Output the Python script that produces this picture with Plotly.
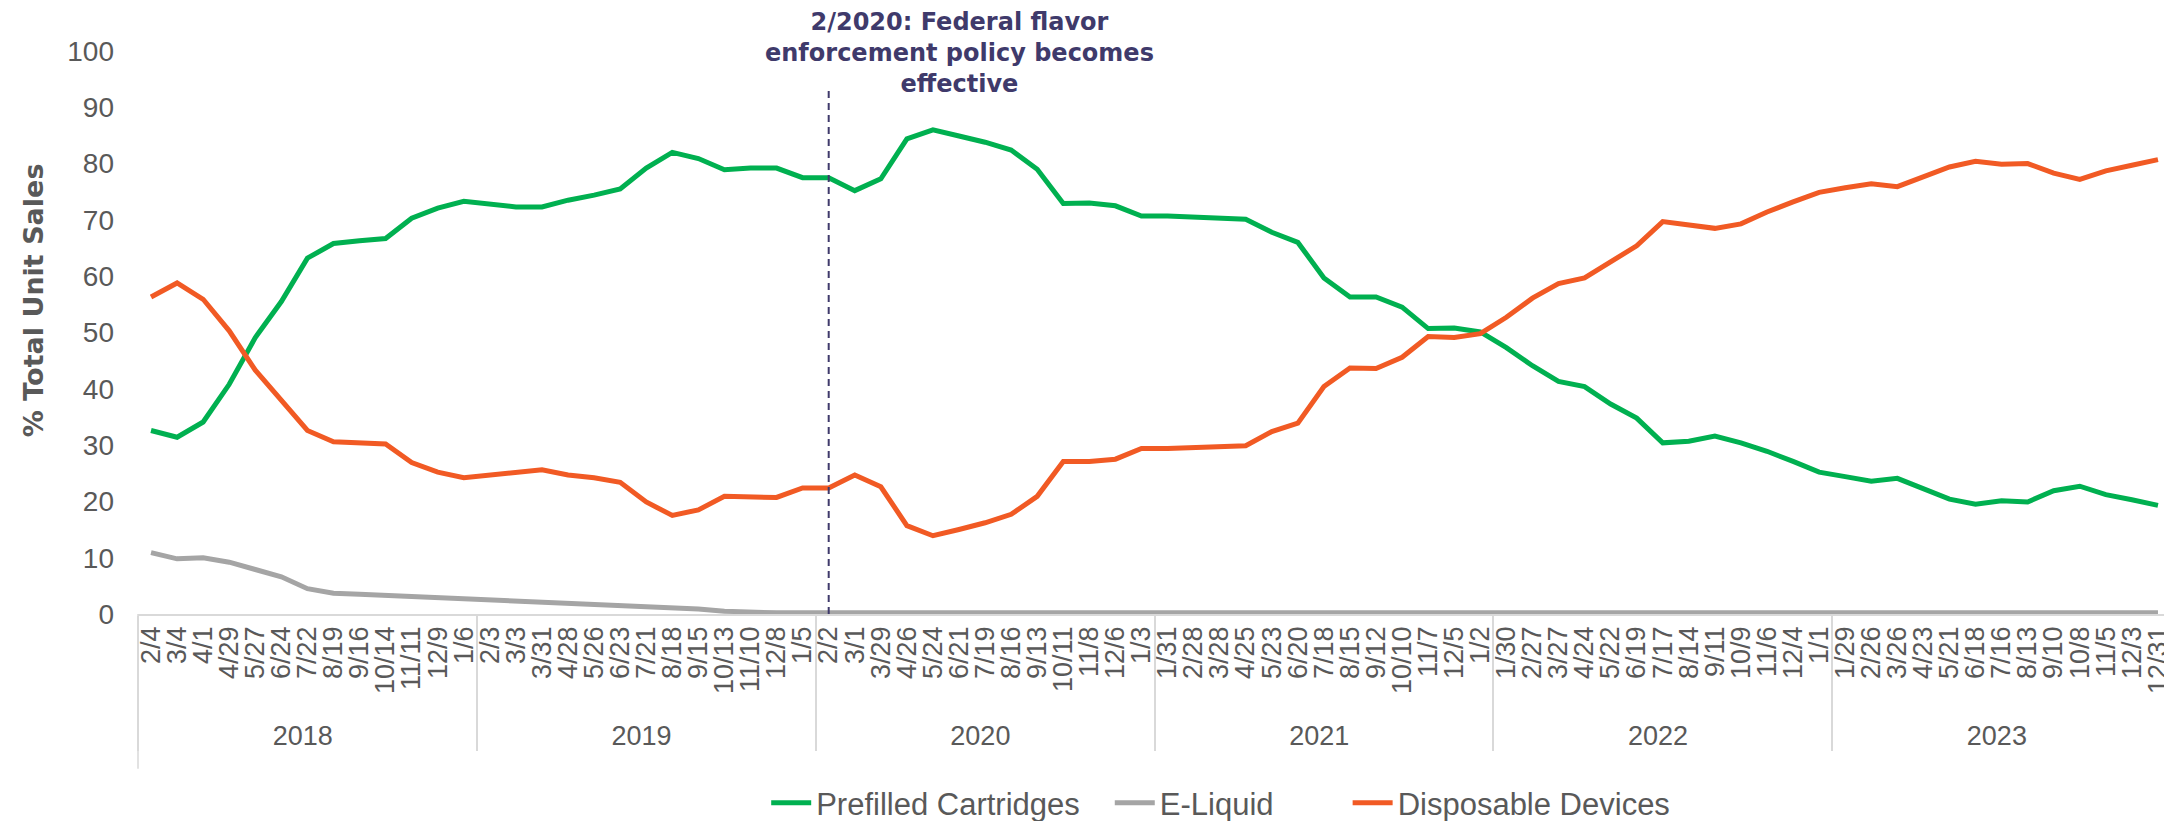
import plotly.graph_objects as go

# ---- data ----
years = ["2018", "2019", "2020", "2021", "2022", "2023"]
period_labels = [
    ["2/4", "3/4", "4/1", "4/29", "5/27", "6/24", "7/22", "8/19", "9/16", "10/14", "11/11", "12/9", "1/6"],
    ["2/3", "3/3", "3/31", "4/28", "5/26", "6/23", "7/21", "8/18", "9/15", "10/13", "11/10", "12/8", "1/5"],
    ["2/2", "3/1", "3/29", "4/26", "5/24", "6/21", "7/19", "8/16", "9/13", "10/11", "11/8", "12/6", "1/3"],
    ["1/31", "2/28", "3/28", "4/25", "5/23", "6/20", "7/18", "8/15", "9/12", "10/10", "11/7", "12/5", "1/2"],
    ["1/30", "2/27", "3/27", "4/24", "5/22", "6/19", "7/17", "8/14", "9/11", "10/9", "11/6", "12/4", "1/1"],
    ["1/29", "2/26", "3/26", "4/23", "5/21", "6/18", "7/16", "8/13", "9/10", "10/8", "11/5", "12/3", "12/31"],
]

prefilled = [
    32.6, 31.4, 34.1, 40.8, 49.1, 55.5, 63.2, 65.8, 66.3, 66.7, 70.3, 72.1, 73.3,
    72.9, 72.3, 72.3, 73.5, 74.4, 75.5, 79.2, 82.0, 80.9, 78.9, 79.2, 79.2, 77.5,
    77.5, 75.2, 77.3, 84.4, 86.0, 84.9, 83.8, 82.4, 79.0, 72.9, 73.0, 72.5, 70.7,
    70.7, 70.5, 70.5, 70.1, 67.8, 66.0, 59.7, 56.3, 56.3, 54.5, 50.7, 50.8, 50.1,
    47.3, 44.1, 41.3, 40.4, 37.3, 34.8, 30.4, 30.7, 31.6, 30.4, 28.9, 27.1, 25.2,
    24.4, 23.6, 24.1, 22.2, 20.4, 19.5, 20.1, 19.9, 21.9, 22.7, 21.2, 20.3, 19.3,
]
e_liquid = [
    10.9, 9.8, 10.0, 9.2, 7.9, 6.6, 4.5, 3.7, 3.5, 3.3, 3.1, 2.8, 2.6,
    2.5, 2.4, 2.1, 2.0, 1.7, 1.5, 1.2, 1.0, 0.9, 0.5, 0.3, 0.2, 0.2,
    0.2, 0.2, 0.2, 0.2, 0.3, 0.2, 0.2, 0.2, 0.2, 0.2, 0.2, 0.2, 0.2,
    0.2, 0.2, 0.2, 0.2, 0.2, 0.2, 0.2, 0.2, 0.2, 0.2, 0.2, 0.2, 0.2,
    0.2, 0.2, 0.2, 0.2, 0.2, 0.2, 0.2, 0.2, 0.2, 0.2, 0.2, 0.2, 0.2,
    0.2, 0.2, 0.2, 0.2, 0.2, 0.2, 0.2, 0.2, 0.2, 0.2, 0.2, 0.2, 0.2,
]
disposable = [
    56.3, 58.8, 55.9, 50.3, 43.3, 38.1, 32.6, 30.6, 30.3, 30.2, 26.9, 25.2, 24.2,
    24.6, 25.2, 25.6, 24.7, 24.2, 23.4, 19.9, 17.5, 18.5, 20.9, 20.7, 20.7, 22.4,
    22.4, 24.7, 22.6, 15.7, 13.9, 15.0, 16.2, 17.7, 20.9, 27.1, 27.1, 27.5, 29.4,
    29.4, 29.6, 29.6, 29.9, 32.4, 33.9, 40.4, 43.7, 43.6, 45.6, 49.3, 49.1, 49.8,
    52.7, 56.1, 58.7, 59.7, 62.6, 65.4, 69.7, 69.2, 68.5, 69.3, 71.4, 73.2, 74.9,
    75.7, 76.4, 75.9, 77.7, 79.4, 80.4, 79.9, 80.0, 78.3, 77.2, 78.7, 79.7, 80.7,
]

policy_year = "2020"
policy_period = "2/2"
policy_line_y = [0, 93.8]
annotation_text = "<b>2/2020: Federal flavor<br>enforcement policy becomes<br>effective</b>"

# ---- build multicategory x ----
x_years = []
x_periods = []
for yr, labs in zip(years, period_labels):
    for lab in labs:
        x_years.append(yr)
        x_periods.append(lab)
x_multi = [x_years, x_periods]
n_points = len(x_periods)

TEXT = "#595959"
GRID = "#D9D9D9"
SANS = "Liberation Sans, Arial, sans-serif"
TICKFONT = dict(family=SANS, size=27, color=TEXT)
LEGFONT = dict(family=SANS, size=31, color=TEXT)

fig = go.Figure()
fig.add_trace(go.Scatter(x=x_multi, y=prefilled, mode="lines", name="Prefilled Cartridges",
                         line=dict(color="#00B050", width=5), legend="legend"))
fig.add_trace(go.Scatter(x=x_multi, y=e_liquid, mode="lines", name="E-Liquid",
                         line=dict(color="#A5A5A5", width=5), legend="legend2"))
fig.add_trace(go.Scatter(x=x_multi, y=disposable, mode="lines", name="Disposable Devices",
                         line=dict(color="#F15A24", width=5), legend="legend3"))
fig.add_trace(go.Scatter(x=[[policy_year, policy_year], [policy_period, policy_period]],
                         y=policy_line_y, mode="lines", showlegend=False, hoverinfo="skip",
                         line=dict(color="#3F3A6B", width=2, dash="7px,5px")))

leg_common = dict(orientation="h", xanchor="left", y=-0.336, yanchor="middle",
                  font=LEGFONT, bgcolor="rgba(0,0,0,0)", itemwidth=40)

# page body has an 8px default margin; compensate so the plot area lands where the reference has it
fig.update_layout(
    width=2164, height=813,
    margin=dict(l=130, r=1, t=43, b=207, autoexpand=False),
    paper_bgcolor="white", plot_bgcolor="white",
    font=TICKFONT,
    legend=dict(x=0.309, **leg_common),
    legend2=dict(x=0.478, **leg_common),
    legend3=dict(x=0.595, **leg_common),
    xaxis=dict(type="multicategory", tickangle=-90, tickfont=TICKFONT,
               tickmode="linear", tick0=0, dtick=1,
               range=[-0.5, n_points - 0.5],
               showline=True, linecolor=GRID, linewidth=1.5,
               showdividers=True, dividercolor=GRID, dividerwidth=1.5,
               showgrid=False, zeroline=False, ticks=""),
    yaxis=dict(range=[0, 100], dtick=10, tickfont=dict(family=SANS, size=28, color=TEXT),
               showgrid=False, zeroline=False, showline=False, ticks="", ticklabelstandoff=23),
    shapes=[
        dict(type="line", xref="paper", yref="paper", x0=0, x1=0, y0=0, y1=-0.275,
             line=dict(color=GRID, width=1.5)),
        dict(type="line", xref="paper", yref="paper", x0=0.9995, x1=0.9995, y0=0, y1=-0.275,
             line=dict(color=GRID, width=1.5)),
    ],
    annotations=[
        dict(text=annotation_text, xref="paper", yref="paper", x=0.404, y=0.996,
             xanchor="center", yanchor="middle", showarrow=False,
             font=dict(family="DejaVu Sans, Verdana, sans-serif", size=24, color="#3F3A6B"),
             align="center"),
        dict(text="<b>% Total Unit Sales</b>", xref="paper", yref="paper", x=-0.051, y=0.558,
             xanchor="center", yanchor="middle", showarrow=False, textangle=-90,
             font=dict(family="DejaVu Sans, Verdana, sans-serif", size=27, color=TEXT)),
    ],
)

fig.write_html("out.html")
